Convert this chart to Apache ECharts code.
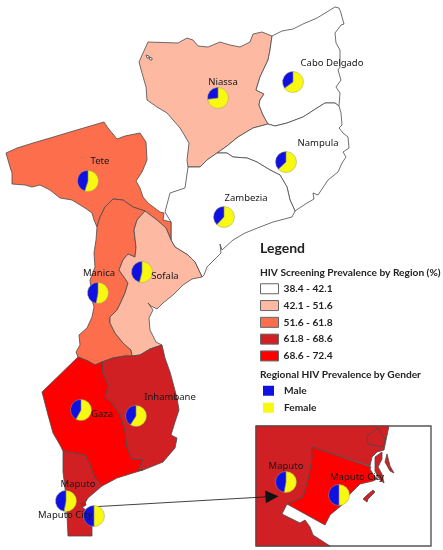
<!DOCTYPE html>
<html>
<head>
<meta charset="utf-8">
<style>html,body{margin:0;padding:0;background:#fff}#chart{width:443px;height:550px}</style>
<script src="https://cdn.jsdelivr.net/npm/echarts@6/dist/echarts.min.js"></script>
</head>
<body>
<div id="chart"></div>
<script>
// Values. Screening values are estimates inside each legend class.
var regionNames = ["Niassa", "Cabo Delgado", "Nampula", "Zambezia", "Tete", "Manica", "Sofala", "Inhambane", "Gaza", "Maputo", "Maputo City"];
var screeningPrevalence = [46, 40, 41, 39, 57, 56, 47, 65, 71, 66, 70];
var malePercent = [27, 35, 37, 38, 45, 47, 46, 41, 42, 47, 50];
var classBreaks = [38.4, 42.1, 51.6, 61.8, 68.6, 72.4];
var classLabels = ["38.4 - 42.1", "42.1 - 51.6", "51.6 - 61.8", "61.8 - 68.6", "68.6 - 72.4"];
var classColors = ["#ffffff", "#fdb9a2", "#fd6e4d", "#d02024", "#ff0000"];
var genderLabels = ["Male", "Female"];
var genderColors = ["#1010e0", "#f8f810"];

// Region outlines, traced in picture pixels (x, y down)
var outlines = {
    "Niassa": [[148,42],[178,43],[187,38],[193,40],[198,46],[208,47],[220,42],[230,45],[240,47],[250,42],[253,34],[262,32],[272,36],[270,50],[268,60],[260,77],[256,90],[264,94],[260,100],[259,105],[263,115],[268,124],[253,128],[238,137],[227,146],[217,153],[207,160],[200,167],[188,167],[187,160],[189,143],[180,128],[167,113],[157,107],[147,100],[146,87],[142,73],[139,62],[143,53]],
    "Cabo Delgado": [[272,36],[282,31],[293,29],[303,24],[317,18],[335,7],[339,8],[341,13],[342,17],[344,24],[341,25],[335,33],[336,43],[340,50],[340,67],[338,70],[341,80],[336,87],[340,93],[339,106],[335,103],[325,103],[317,108],[303,117],[287,123],[275,126],[268,124],[263,115],[259,105],[260,100],[264,94],[256,90],[260,77],[268,60],[270,50]],
    "Nampula": [[339,106],[341,113],[342,125],[339,128],[343,133],[348,137],[349,148],[343,152],[346,157],[342,163],[338,172],[328,180],[318,195],[313,193],[314,199],[307,203],[295,211],[290,200],[287,187],[280,175],[270,170],[257,162],[247,158],[233,157],[227,153],[217,153],[227,146],[238,137],[253,128],[268,124],[275,126],[287,123],[303,117],[317,108],[325,103],[335,103]],
    "Zambezia": [[217,153],[227,153],[233,157],[247,158],[257,162],[270,170],[280,175],[287,187],[290,200],[295,211],[292,217],[273,222],[260,227],[245,233],[233,240],[222,250],[220,244],[221,253],[207,267],[204,275],[202,277],[195,262],[188,255],[175,247],[171,240],[171,222],[165,212],[170,193],[185,188],[188,167],[200,167],[207,160]],
    "Tete": [[6,153],[17,148],[33,143],[50,138],[70,132],[87,127],[104,122],[108,128],[117,139],[125,136],[140,133],[146,142],[147,160],[142,172],[136,181],[140,188],[143,197],[148,203],[160,212],[164,213],[163,220],[171,222],[171,240],[166,228],[157,220],[145,211],[133,207],[123,200],[113,199],[105,207],[100,217],[97,227],[94,220],[92,213],[85,208],[72,200],[60,198],[50,190],[40,185],[32,187],[25,185],[12,184],[12,173],[10,167]],
    "Manica": [[113,199],[123,200],[133,207],[145,211],[137,220],[134,230],[136,247],[135,257],[128,254],[123,260],[119,270],[128,283],[125,293],[121,302],[117,310],[110,317],[110,323],[115,333],[123,343],[131,350],[132,356],[125,356],[113,358],[102,362],[95,365],[88,361],[78,357],[76,352],[80,345],[79,335],[87,328],[92,317],[94,307],[92,300],[90,280],[95,267],[94,253],[96,240],[97,227],[100,217],[105,207]],
    "Sofala": [[145,211],[157,220],[166,228],[171,240],[175,247],[188,255],[195,262],[202,277],[192,279],[183,285],[173,295],[163,303],[157,309],[151,306],[148,303],[153,310],[149,318],[150,330],[156,342],[162,345],[150,349],[140,355],[132,356],[131,350],[123,343],[115,333],[110,323],[110,317],[117,310],[121,302],[125,293],[128,283],[119,270],[123,260],[128,254],[135,257],[136,247],[134,230],[137,220]],
    "Inhambane": [[162,345],[165,358],[170,372],[173,383],[177,398],[179,410],[175,422],[171,435],[177,438],[175,448],[163,462],[143,470],[138,470],[143,460],[132,459],[127,448],[125,432],[120,415],[112,403],[105,397],[108,385],[102,372],[102,362],[113,358],[125,356],[132,356],[140,355],[150,349]],
    "Gaza": [[78,357],[88,361],[95,365],[102,362],[102,372],[108,385],[105,397],[112,403],[120,415],[125,432],[127,448],[132,459],[143,460],[138,470],[143,470],[133,473],[117,478],[102,486],[95,478],[90,465],[85,455],[63,451],[60,445],[53,433],[48,415],[42,392]],
    "Maputo": [[63,451],[85,455],[90,465],[95,478],[102,486],[95,492],[88,498],[85,503],[82,507],[92,515],[92,536],[68,536],[67,515],[65,488],[63,472]],
    "Maputo City": [[81,503],[85,502],[86,505],[83,507]],
    "Lake north": [[146,55],[149,56],[149,58],[147,58]],
    "Lake south": [[149,57],[152,58],[152,60],[150,60]],
    "Inset frame": [[256,426],[431,426],[431,546],[256,546]],
    "Inset Maputo": [[256,426],[389,426],[386,440],[384,450],[377,452],[372,457],[370,466],[371,467],[312,447],[312,460],[308,480],[303,497],[287,504],[282,514],[300,523],[305,520],[310,527],[313,535],[330,546],[256,546]],
    "Inset river": [[378,428],[367,436],[368,444],[383,447],[385,439]],
    "Inset Maputo City": [[312,447],[371,467],[370,469],[373,474],[377,479],[373,481],[360,484],[350,494],[342,505],[330,515],[325,525],[287,504],[303,497],[308,480],[312,460]],
    "Inset spit": [[375,457],[382,452],[382,459],[378,467],[382,474],[384,483],[380,480],[375,471]],
    "Inset strip": [[387,454],[390,466],[394,473],[390,471],[385,462]],
    "Inset island": [[373,490],[375,492],[368,499],[367,502],[363,499],[367,495]]
};
var extraFills = {
    "Lake north": "#ffffff", "Lake south": "#ffffff", "Inset frame": "#ffffff",
    "Inset Maputo": classColors[3], "Inset river": classColors[3], "Inset Maputo City": classColors[4],
    "Inset spit": classColors[3], "Inset strip": classColors[3], "Inset island": classColors[3]
};

// Pie and label anchors, also in picture pixels
var pieCentres = [[218,98],[293,82],[286,162],[224,217],[88,181],[98,293],[142,272],[136,416],[81,410],[66,501],[94,516]];
var labelCentres = [[223,82],[332,63],[318,143],[246,198],[100,161],[99,273],[165,276],[170,397],[102,414],[78,484],[65,515]];
var insetPieCentres = [[286,482],[339,495]];
var insetLabelCentres = [[286,466],[357,477]];
var arrowPath = [[90,507],[272,496.5]];

function toGeo(p) { return [p[0], -p[1]]; }

function classIndex(v) {
    for (var i = 0; i < classLabels.length; i++) {
        if (v <= classBreaks[i + 1]) return i;
    }
    return classLabels.length - 1;
}

var features = Object.keys(outlines).map(function (name) {
    var ring = outlines[name].map(toGeo);
    ring.push(ring[0]);
    return { type: "Feature", properties: { name: name }, geometry: { type: "Polygon", coordinates: [ring] } };
});
echarts.registerMap("mozambique", { type: "FeatureCollection", features: features });

var regionStyles = Object.keys(outlines).map(function (name) {
    var i = regionNames.indexOf(name);
    var isFrame = name === "Inset frame";
    return {
        name: name,
        silent: true,
        itemStyle: {
            areaColor: i >= 0 ? classColors[classIndex(screeningPrevalence[i])] : extraFills[name],
            borderColor: isFrame ? "#555555" : "#4a4a4a",
            borderWidth: isFrame ? 1.4 : 0.8
        }
    };
});

function pieSeries(name, centre, male) {
    return {
        type: "pie",
        name: name,
        coordinateSystem: "geo",
        geoIndex: 0,
        center: toGeo(centre),
        radius: 10.5,
        startAngle: 90,
        silent: true,
        animation: false,
        z: 4,
        label: { show: false },
        labelLine: { show: false },
        itemStyle: { borderColor: "#a0a070", borderWidth: 0.5 },
        data: [
            { name: "Female", value: 100 - male, itemStyle: { color: genderColors[1] } },
            { name: "Male", value: male, itemStyle: { color: genderColors[0] } }
        ]
    };
}

var series = [];
regionNames.forEach(function (name, i) {
    series.push(pieSeries(name, pieCentres[i], malePercent[i]));
});
series.push(pieSeries("Maputo inset", insetPieCentres[0], malePercent[9]));
series.push(pieSeries("Maputo City inset", insetPieCentres[1], malePercent[10]));

// Empty series so the class swatches come from the legend component
classLabels.forEach(function (label, i) {
    series.push({ type: "scatter", coordinateSystem: "geo", name: label, data: [], itemStyle: { color: classColors[i], opacity: 1 } });
});

var labelData = regionNames.map(function (name, i) {
    return { name: name, value: toGeo(labelCentres[i]) };
}).concat([
    { name: "Maputo", value: toGeo(insetLabelCentres[0]) },
    { name: "Maputo City", value: toGeo(insetLabelCentres[1]) }
]);
series.push({
    type: "scatter",
    name: "labels",
    coordinateSystem: "geo",
    symbolSize: 1,
    silent: true,
    animation: false,
    z: 6,
    itemStyle: { color: "transparent", opacity: 1 },
    label: {
        show: true,
        position: "inside",
        formatter: "{b}",
        fontFamily: "Noto Sans",
        fontSize: 9.5,
        color: "#161616",
        opacity: 1
    },
    data: labelData
});

series.push({
    type: "lines",
    name: "inset arrow",
    coordinateSystem: "geo",
    silent: true,
    animation: false,
    z: 3,
    symbol: ["none", "triangle"],
    symbolSize: 13,
    lineStyle: { color: "#111111", width: 0.8, opacity: 1 },
    data: [{ coords: arrowPath.map(toGeo) }]
});

var titleFont = { fontFamily: "Lato", fontWeight: "bold", color: "#222222" };

var chart = echarts.init(document.getElementById("chart"), null, { renderer: "canvas" });
chart.setOption({
    animation: false,
    backgroundColor: "#ffffff",
    title: [
        { text: "Legend", left: 260, top: 241, padding: 0, textStyle: Object.assign({ fontSize: 14 }, titleFont) },
        { text: "HIV Screening Prevalence by Region (%)", left: 260, top: 268, padding: 0, textStyle: Object.assign({ fontSize: 10.2 }, titleFont) },
        { text: "Regional HIV Prevalence by Gender", left: 260, top: 370, padding: 0, textStyle: Object.assign({ fontSize: 10.2 }, titleFont) }
    ],
    legend: [
        {
            orient: "vertical",
            left: 260,
            top: 283,
            padding: 0,
            itemGap: 5.3,
            itemWidth: 18,
            itemHeight: 10,
            icon: "rect",
            selectedMode: false,
            textStyle: { fontFamily: "Lato", fontWeight: "bold", fontSize: 10.2, color: "#222222", lineHeight: 11.5 },
            data: classLabels.map(function (label, i) {
                return { name: label, itemStyle: { color: classColors[i], borderColor: "#666666", borderWidth: 1, opacity: 1 } };
            })
        },
        {
            orient: "vertical",
            left: 263,
            top: 385,
            padding: 0,
            itemGap: 5.5,
            itemWidth: 11,
            itemHeight: 10,
            icon: "rect",
            selectedMode: false,
            textStyle: { fontFamily: "Lato", fontWeight: "bold", fontSize: 10.2, color: "#222222", lineHeight: 11.5, padding: [0, 0, 0, 5] },
            data: genderLabels.map(function (label, i) {
                return { name: label, itemStyle: { color: genderColors[i], borderWidth: 0 } };
            })
        }
    ],
    geo: {
        map: "mozambique",
        roam: false,
        silent: true,
        aspectScale: 1,
        boundingCoords: [[0, 0], [443, -550]],
        left: 0,
        top: 0,
        right: 0,
        bottom: 0,
        label: { show: false },
        emphasis: { disabled: true },
        itemStyle: { areaColor: "#ffffff", borderColor: "#4a4a4a", borderWidth: 0.8 },
        regions: regionStyles
    },
    series: series
});
</script>
</body>
</html>
